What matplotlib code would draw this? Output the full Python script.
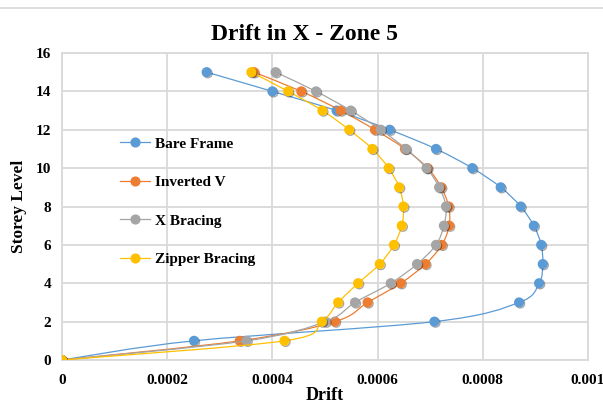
import matplotlib
matplotlib.use("Agg")
import matplotlib.pyplot as plt
import matplotlib.patheffects as pe
from matplotlib.path import Path
from matplotlib.patches import PathPatch
from matplotlib.lines import Line2D
import numpy as np

plt.rcParams['font.family'] = ['Liberation Serif', 'DejaVu Serif']
plt.rcParams['font.weight'] = 'bold'

# storey levels and drift values
storeys = list(range(0, 16))
bare_frame = [0, 0.000251, 0.000708, 0.000869, 0.000907, 0.000914, 0.000911, 0.000897,
              0.000872, 0.000834, 0.000780, 0.000711, 0.000623, 0.000522, 0.000400, 0.000275]
inverted_v = [0, 0.000338, 0.000519, 0.000581, 0.000644, 0.000691, 0.000722, 0.000736,
              0.000735, 0.000721, 0.000695, 0.000652, 0.000595, 0.000530, 0.000455, 0.000365]
x_bracing = [0, 0.000351, 0.000501, 0.000557, 0.000625, 0.000675, 0.000711, 0.000726,
             0.000730, 0.000717, 0.000693, 0.000654, 0.000606, 0.000549, 0.000483, 0.000406]
zipper = [0, 0.000423, 0.000494, 0.000525, 0.000563, 0.000604, 0.000631, 0.000646,
          0.000649, 0.000641, 0.000621, 0.000590, 0.000546, 0.000495, 0.000430, 0.000360]

series = [("Bare Frame", bare_frame, "#5B9BD5"),
          ("Inverted V", inverted_v, "#ED7D31"),
          ("X Bracing", x_bracing, "#A5A5A5"),
          ("Zipper Bracing", zipper, "#FFC000")]

x_ticks = [0, 0.0002, 0.0004, 0.0006, 0.0008, 0.001]
x_tick_labels = ["0", "0.0002", "0.0004", "0.0006", "0.0008", "0.001"]
y_ticks = list(range(0, 17, 2))


def smooth_path(xs, ys):
    # excel-like smoothed line: catmull-rom turned into bezier segments
    pts = np.column_stack([xs, ys]).astype(float)
    n = len(pts)
    verts = [pts[0]]
    codes = [Path.MOVETO]
    for i in range(n - 1):
        p0 = pts[i - 1] if i > 0 else pts[i]
        p1 = pts[i]
        p2 = pts[i + 1]
        p3 = pts[i + 2] if i + 2 < n else pts[i + 1]
        c1 = p1 + (p2 - p0) / 6.0
        c2 = p2 - (p3 - p1) / 6.0
        verts += [c1, c2, p2]
        codes += [Path.CURVE4] * 3
    return Path(verts, codes)


fig = plt.figure(figsize=(6.03, 4.03), dpi=100)
ax = fig.add_axes([62 / 603, 43 / 403, 526 / 603, 307 / 403])

handles = []
for k, (name, vals, col) in enumerate(series):
    patch = PathPatch(smooth_path(vals, storeys), facecolor='none', edgecolor=col,
                      lw=0.9, transform=ax.transData, zorder=3 + k)
    ax.add_patch(patch)
    ax.plot(vals, storeys, ls='none', marker='o', ms=6.3, color=col,
            markeredgecolor=col, zorder=3 + k,
            path_effects=[pe.SimpleLineShadow(offset=(0.8, -0.8), shadow_color='k', alpha=0.35),
                          pe.Normal()])
    handles.append(Line2D([], [], color=col, lw=0.9, marker='o', ms=6.3, label=name))

ax.set_xlim(0, 0.001)
ax.set_ylim(0, 16)
ax.set_xticks(x_ticks)
ax.set_xticklabels(x_tick_labels)
ax.set_yticks(y_ticks)
ax.grid(True, color='#D9D9D9', lw=1.3)
ax.set_axisbelow(True)
for s in ax.spines.values():
    s.set_color('#D9D9D9')
    s.set_linewidth(1.3)
ax.tick_params(axis='x', length=0, labelsize=11, pad=10)
ax.tick_params(axis='y', length=0, labelsize=11, pad=8)
for lab in ax.get_xticklabels() + ax.get_yticklabels():
    lab.set_fontweight('bold')

fig.text(0.505, 1 - 34 / 403, "Drift in X - Zone 5", fontsize=17, fontweight='bold',
         ha='center', va='center')
ax.set_xlabel("Drift", fontsize=13, fontweight='bold', labelpad=0)
ax.set_ylabel("Storey Level", fontsize=12.5, fontweight='bold', labelpad=6)

ax.legend(handles=handles, loc='upper left', bbox_to_anchor=(120 / 603, 1 - 137 / 403),
          bbox_transform=fig.transFigure, frameon=False,
          handlelength=1.95, handletextpad=0.35, labelspacing=1.62,
          borderpad=0, borderaxespad=0, prop={'weight': 'bold', 'size': 11})

fig.add_artist(Line2D([0, 1], [1 - 8 / 403, 1 - 8 / 403], color='#D9D9D9', lw=1.2,
                      transform=fig.transFigure))

fig.savefig("out.png", dpi=100)
